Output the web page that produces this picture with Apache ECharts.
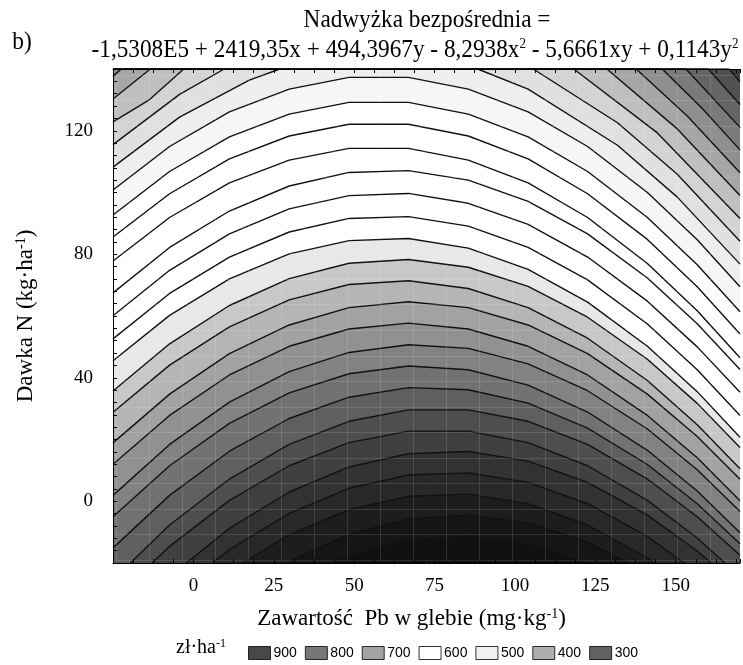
<!DOCTYPE html>
<html>
<head>
<meta charset="utf-8">
<script src="https://cdn.jsdelivr.net/npm/echarts@6/dist/echarts.min.js"></script>
<style>
html, body { margin: 0; padding: 0; background: #fff; }
#chart { width: 743px; height: 665px; }
</style>
</head>
<body>
<div id="chart"></div>
<script>
// axis ticks
const xTickValues = [0, 25, 50, 75, 100, 125, 150];
const yTickValues = [0, 40, 80, 120];

// legend (zł/ha)
const legendValues = ['900', '800', '700', '600', '500', '400', '300'];
const legendColors = ['#1a1a1a', '#555555', '#8c8c8c', '#ffffff', '#ececec', '#9a9a9a', '#3c3c3c'];

// contour levels, one per line (top -> bottom)
const contourLevels = [320, 340, 360, 380, 400, 420, 440, 460, 480, 500, 520, 540, 560, 580, 600, 620,
  640, 660, 680, 700, 720, 740, 760, 780, 800, 820, 840, 860, 880, 900, 920, 940];

// contour lines, [x, y] pairs
const contourLines = [
  [[-25, 140], [166.6, 140], [170, 135.9]],
  [[-25, 140], [160.1, 140], [170, 128.5]],
  [[-25, 140], [153.2, 140], [170, 121.1]],
  [[-25, 140], [145.8, 140], [158.2, 127.3], [170, 113.8]],
  [[-25, 137.7], [-22.4, 140], [137.7, 140], [153.6, 124.8], [170, 106.4]],
  [[-25, 130.3], [-13.4, 140], [128.6, 140], [150.5, 120.6], [170, 99]],
  [[-25, 122.9], [-13.6, 130.1], [-3, 140], [118.3, 140], [144.3, 119.3], [170, 91.6]],
  [[-25, 115.5], [-4.3, 131.8], [9.6, 140], [105.7, 140], [131.9, 122.6], [150.5, 105.9], [170, 84.2]],
  [[-25, 108.2], [-4.3, 124.4], [17.4, 136.4], [26.9, 140], [88.4, 140], [104.1, 133.5], [131.9, 115.3], [150.5, 98.5], [170, 76.8]],
  [[-25, 100.8], [-7.4, 114.9], [11.2, 126.1], [29.8, 133.5], [48.4, 137.3], [66.9, 137.3], [85.5, 133.5], [104.1, 126.1], [122.6, 114.9], [141.2, 100.0], [156.7, 84.7], [170, 69.5]],
  [[-25, 92.7], [-7.4, 106.8], [11.2, 118.0], [29.8, 125.4], [48.4, 129.2], [66.9, 129.2], [85.5, 125.4], [104.1, 118.0], [122.6, 106.8], [141.2, 91.9], [156.7, 76.6], [170, 61.4]],
  [[-25, 85.6], [-7.4, 99.6], [11.2, 110.9], [29.8, 118.3], [48.4, 122.1], [66.9, 122.1], [85.5, 118.3], [104.1, 110.9], [122.6, 99.6], [141.2, 84.8], [156.7, 69.5], [170, 54.2]],
  [[-25, 77.8], [-7.4, 91.9], [11.2, 103.1], [29.8, 110.5], [48.4, 114.3], [66.9, 114.3], [85.5, 110.5], [104.1, 103.1], [122.6, 91.9], [141.2, 77.0], [156.7, 61.7], [170, 46.5]],
  [[-25, 67.5], [-7.4, 82.2], [11.2, 94.0], [29.8, 102.1], [48.4, 106.5], [66.9, 107.1], [85.5, 104.0], [104.1, 97.1], [122.6, 86.6], [141.2, 72.3], [156.7, 57.5], [170, 42.7]],
  [[-25, 60.1], [-7.4, 74.8], [11.2, 86.6], [29.8, 94.7], [48.4, 99.0], [66.9, 99.7], [85.5, 96.5], [104.1, 89.7], [122.6, 79.1], [141.2, 64.8], [156.7, 50.0], [170, 35.3]],
  [[-25, 52.6], [-7.4, 67.3], [11.2, 79.1], [29.8, 87.2], [48.4, 91.6], [66.9, 92.2], [85.5, 89.1], [104.1, 82.2], [122.6, 71.7], [141.2, 57.4], [156.7, 42.6], [170, 27.8]],
  [[-25, 45.5], [-7.4, 60.2], [11.2, 72.0], [29.8, 80.1], [48.4, 84.4], [66.9, 85.1], [85.5, 82.0], [104.1, 75.1], [122.6, 64.5], [141.2, 50.2], [156.7, 35.5], [170, 20.7]],
  [[-25, 35.7], [-7.4, 51.0], [11.2, 63.4], [29.8, 72.1], [48.4, 77.1], [66.9, 78.3], [85.5, 75.8], [104.1, 69.6], [122.6, 59.6], [141.2, 46.0], [156.7, 31.7], [170, 17.4]],
  [[-25, 28.8], [-7.4, 44.1], [11.2, 56.5], [29.8, 65.2], [48.4, 70.2], [66.9, 71.4], [85.5, 68.9], [104.1, 62.7], [122.6, 52.8], [141.2, 39.1], [156.7, 24.8], [170, 10.5]],
  [[-25, 18.9], [-7.4, 34.7], [11.2, 47.8], [29.8, 57.1], [48.4, 62.7], [66.9, 64.6], [85.5, 62.7], [104.1, 57.1], [122.6, 47.8], [141.2, 34.7], [156.7, 21.0], [170, 7.1]],
  [[-25, 12.0], [-7.4, 27.8], [11.2, 40.9], [29.8, 50.2], [48.4, 55.8], [66.9, 57.7], [85.5, 55.8], [104.1, 50.2], [122.6, 40.9], [141.2, 27.8], [156.7, 14.1], [170, 0.2]],
  [[-25, 1.9], [-7.4, 18.4], [11.2, 32.1], [29.8, 42.0], [48.4, 48.2], [66.9, 50.7], [85.5, 49.5], [104.1, 44.5], [122.6, 35.8], [141.2, 23.4], [156.7, 10.2], [170, -3.3]],
  [[-25, -5.0], [-7.4, 11.5], [11.2, 25.2], [29.8, 35.1], [48.4, 41.3], [66.9, 43.8], [85.5, 42.6], [104.1, 37.6], [122.6, 28.9], [141.2, 16.5], [156.7, 3.3], [170, -10.2]],
  [[-25, -15.1], [-7.4, 1.9], [11.2, 16.2], [29.8, 26.8], [48.4, 33.7], [66.9, 36.8], [85.5, 36.1], [104.1, 31.8], [122.6, 23.7], [141.2, 11.9], [156.7, -0.8], [170, -13.8]],
  [[-19.6, -20], [-7.4, -7.7], [11.2, 7.2], [29.8, 18.4], [48.4, 25.9], [66.9, 29.6], [85.5, 29.6], [104.1, 25.9], [122.6, 18.4], [141.2, 7.2], [156.7, -5.0], [170, -17.5]],
  [[-12.8, -20], [-7.4, -14.6], [11.2, 0.3], [29.8, 11.5], [48.4, 19.0], [66.9, 22.7], [85.5, 22.7], [104.1, 19.0], [122.6, 11.5], [141.2, 0.3], [156.7, -11.9], [165.3, -20]],
  [[-2.2, -20], [11.2, -8.8], [29.8, 3.0], [48.4, 11.1], [66.9, 15.4], [85.5, 16.1], [104.1, 13.0], [122.6, 6.1], [141.2, -4.5], [156.7, -16.1], [161.0, -20]],
  [[6.0, -20], [11.2, -15.7], [29.8, -3.9], [48.4, 4.2], [66.9, 8.5], [85.5, 9.2], [104.1, 6.1], [122.6, -0.8], [141.2, -11.4], [152.7, -20]],
  [[15.3, -20], [29.8, -10.8], [48.4, -2.7], [66.9, 1.6], [85.5, 2.3], [104.1, -0.8], [122.6, -7.7], [141.2, -18.3], [143.5, -20]],
  [[28.9, -20], [29.8, -19.4], [48.4, -10.7], [66.9, -5.7], [85.5, -4.5], [104.1, -7.0], [122.6, -13.2], [135.4, -20]],
  [[43.3, -20], [48.4, -17.6], [66.9, -12.6], [85.5, -11.4], [104.1, -13.9], [122.2, -20]],
  [[65.0, -20], [66.9, -19.5], [85.5, -18.3], [98.1, -20]]
];

// grey ramp used for the shading between lines
const shadeStops = [[300, 0x30], [400, 0x99], [440, 0xcc], [490, 0xee], [520, 0xfa], [530, 0xff], [630, 0xff],
  [650, 0xe8], [670, 0xc8], [720, 0x99], [765, 0x77], [800, 0x55], [845, 0x35], [900, 0x18], [930, 0x10], [960, 0x0c]];
function shade(v) {
  let g = shadeStops[shadeStops.length - 1][1];
  if (v <= shadeStops[0][0]) g = shadeStops[0][1];
  for (let i = 1; i < shadeStops.length; i++) {
    const a = shadeStops[i - 1], b = shadeStops[i];
    if (v >= a[0] && v <= b[0]) { g = a[1] + (b[1] - a[1]) * (v - a[0]) / (b[0] - a[0]); break; }
  }
  const h = Math.round(g).toString(16).padStart(2, '0');
  return '#' + h + h + h;
}

const serif = '"Liberation Serif", "Times New Roman", serif';
var series = [];
contourLines.forEach(function (pts, i) {
  series.push({
    type: 'line',
    data: pts,
    symbol: 'none',
    smooth: false,
    clip: true,
    silent: true,
    lineStyle: { color: '#111', width: 1.4 },
    areaStyle: { color: shade(contourLevels[i] + 10), opacity: 1, origin: 'start' },
    z: 2
  });
});
// legend entries only
legendValues.forEach(function (name, i) {
  series.push({ type: 'scatter', name: name, data: [], itemStyle: { color: legendColors[i] } });
});

// faint surface mesh drawn over the shading
const meshLine = { show: true, lineStyle: { color: 'rgba(255,255,255,0.13)', width: 1 } };

var chart = echarts.init(document.getElementById('chart'));
chart.setOption({
  animation: false,
  backgroundColor: '#fff',
  grid: [
    { left: 113, top: 69, width: 630, height: 494, show: true, backgroundColor: shade(310), borderWidth: 0 },
    { left: 116, top: 75, width: 633, height: 485, show: false }
  ],
  xAxis: [{
    type: 'value', min: -25, max: 170, interval: 25,
    name: 'Zawartość  Pb w glebie (mg·kg{sup|-1})',
    nameLocation: 'middle', nameGap: 44,
    nameTextStyle: { fontFamily: serif, fontSize: 23, color: '#000', padding: [0, 30, 0, 0],
      rich: { sup: { fontSize: 14, verticalAlign: 'top', fontFamily: serif } } },
    axisLine: { show: true, onZero: false, lineStyle: { color: '#000', width: 1 } },
    axisTick: { show: true, inside: true, length: 4, lineStyle: { color: '#000' } },
    minorTick: { show: true, splitNumber: 4, length: 4, lineStyle: { color: '#000' } },
    axisLabel: { fontFamily: serif, fontSize: 19, color: '#000', margin: 14,
      formatter: function (v) { return xTickValues.indexOf(v) >= 0 ? String(v) : ''; } },
    splitLine: { show: false }, z: 6
  }, {
    type: 'value', position: 'top', min: -25, max: 170, interval: 25,
    axisLine: { show: true, onZero: false, lineStyle: { color: '#000', width: 1 } },
    axisTick: { show: true, inside: true, length: 4, lineStyle: { color: '#000' } },
    minorTick: { show: true, splitNumber: 4, length: 4, lineStyle: { color: '#000' } },
    axisLabel: { show: false }, splitLine: { show: false }, z: 6
  }, {
    type: 'value', gridIndex: 1, min: 0, max: 19, interval: 1, z: 5,
    axisLine: { show: false }, axisTick: { show: false }, axisLabel: { show: false },
    splitLine: meshLine
  }],
  yAxis: [{
    type: 'value', min: -20, max: 140, interval: 20,
    name: 'Dawka N (kg·ha{sup|-1})',
    nameLocation: 'middle', nameGap: 76,
    nameTextStyle: { fontFamily: serif, fontSize: 23, color: '#000', rich: { sup: { fontSize: 14, verticalAlign: 'top', fontFamily: serif } } },
    axisLine: { show: true, onZero: false, lineStyle: { color: '#000', width: 1 } },
    axisTick: { show: true, inside: true, length: 4, lineStyle: { color: '#000' } },
    minorTick: { show: true, splitNumber: 5, length: 4, lineStyle: { color: '#000' } },
    axisLabel: { fontFamily: serif, fontSize: 19, color: '#000', margin: 20,
      formatter: function (v) { return yTickValues.indexOf(v) >= 0 ? String(v) : ''; } },
    splitLine: { show: false }, z: 6
  }, {
    type: 'value', gridIndex: 1, min: 0, max: 19, interval: 1, z: 5,
    axisLine: { show: false }, axisTick: { show: false }, axisLabel: { show: false },
    splitLine: meshLine
  }],
  legend: {
    left: 243, top: 641, orient: 'horizontal', selectedMode: false,
    itemWidth: 22, itemHeight: 13, itemGap: 8,
    icon: 'rect',
    itemStyle: { borderColor: '#000', borderWidth: 1 },
    textStyle: { fontFamily: '"Liberation Sans", Arial, sans-serif', fontSize: 14, color: '#000', padding: [0, 0, 0, -2] },
    data: legendValues
  },
  graphic: [
    { type: 'text', x: 22, y: 42, scaleX: 0.9,
      style: { text: 'b)', font: '26px ' + serif, fill: '#000', align: 'center', verticalAlign: 'middle' } },
    { type: 'text', x: 427, y: 20, scaleX: 0.93,
      style: { text: 'Nadwyżka bezpośrednia =', font: '25px ' + serif, fill: '#000', align: 'center', verticalAlign: 'middle' } },
    { type: 'text', x: 415, y: 50, scaleX: 0.93,
      style: { text: '-1,5308E5 + 2419,35x + 494,3967y - 8,2938x{sup|2} - 5,6661xy + 0,1143y{sup|2}',
        font: '25px ' + serif, fill: '#000', align: 'center', verticalAlign: 'middle',
        rich: { sup: { fontSize: 14, fontFamily: serif, verticalAlign: 'top', fill: '#000' } } } },
    { type: 'text', x: 176, y: 648,
      style: { text: 'zł·ha{sup|-1}', font: '20px ' + serif, fill: '#000', verticalAlign: 'middle',
        rich: { sup: { fontSize: 12, fontFamily: serif, verticalAlign: 'top', fill: '#000' } } } }
  ],
  series: series
});
</script>
</body>
</html>
